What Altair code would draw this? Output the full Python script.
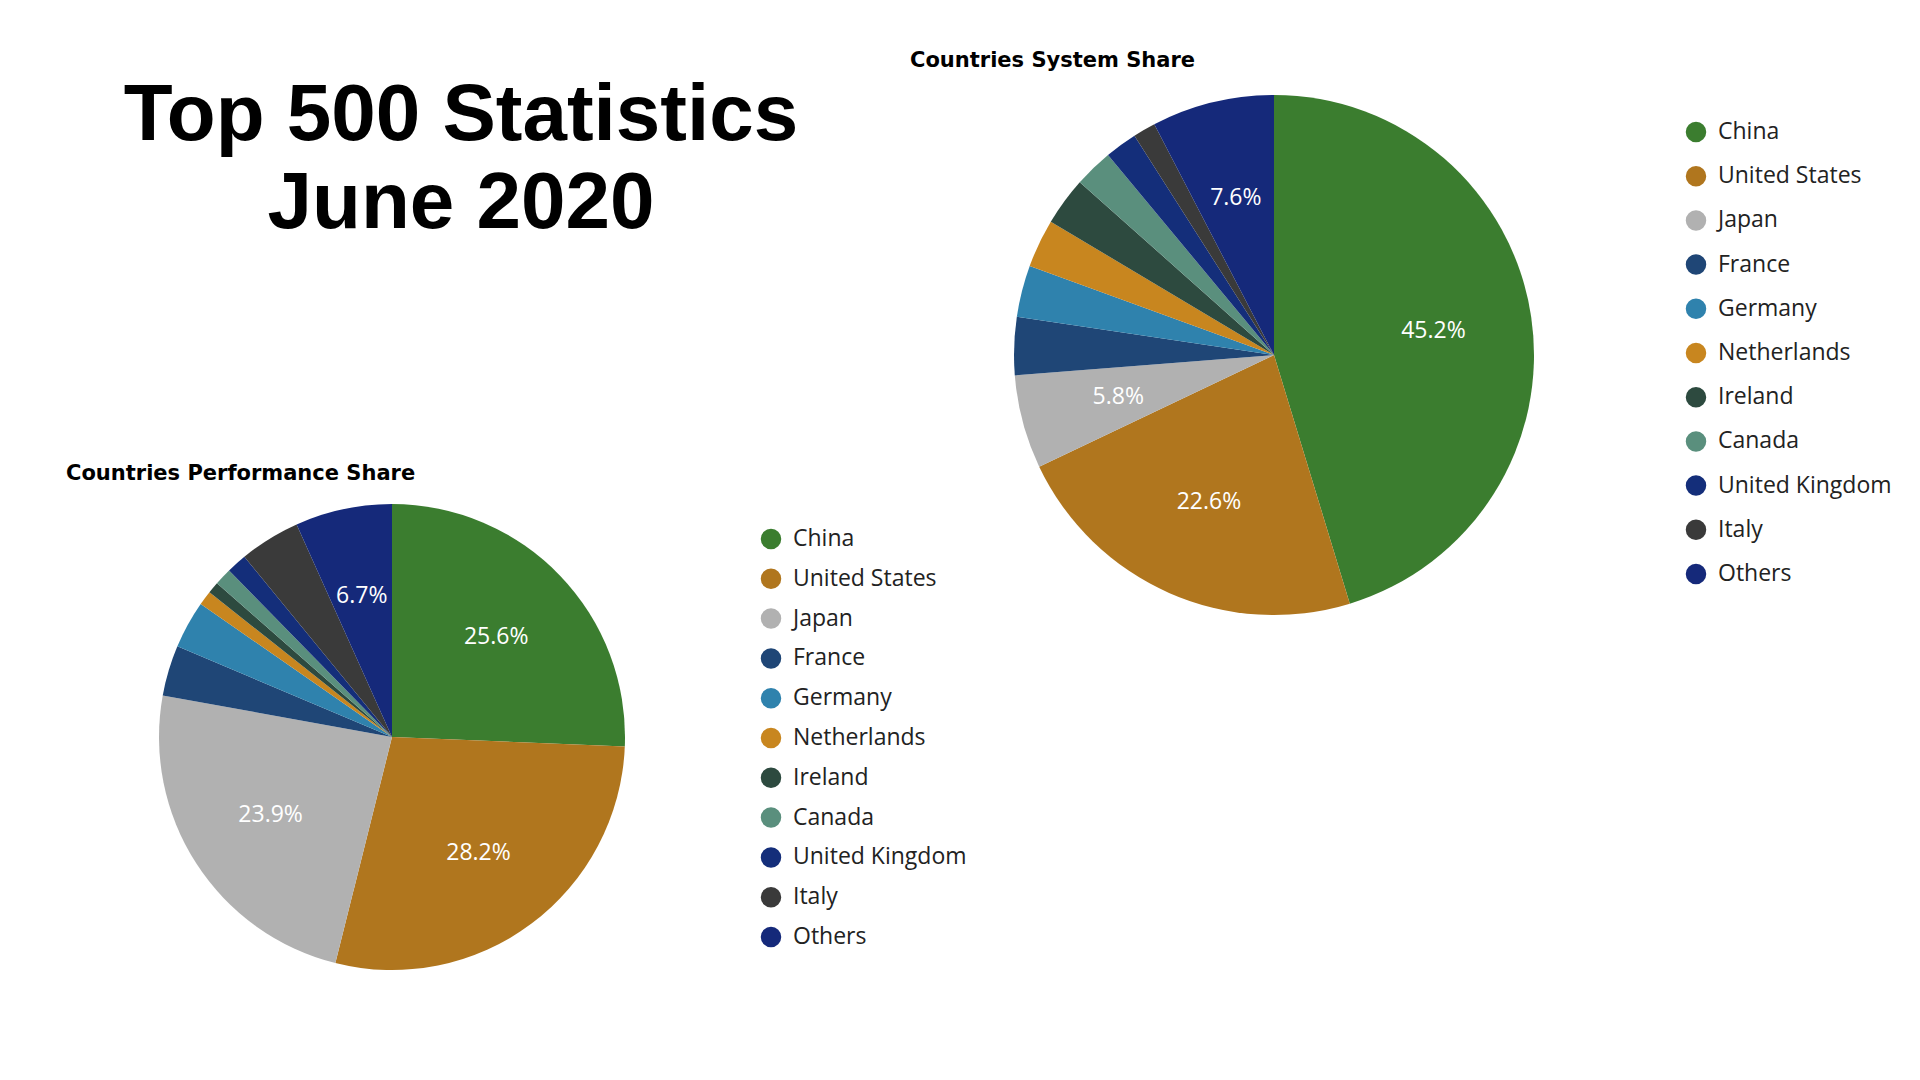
import altair as alt
import pandas as pd

countries = ["China", "United States", "Japan", "France", "Germany", "Netherlands",
             "Ireland", "Canada", "United Kingdom", "Italy", "Others"]
colors = ["#3b7d2f", "#b0761e", "#b1b1b1", "#1f4676", "#2f82ad", "#c8861f",
          "#2d4a3f", "#5a8f7d", "#142e7a", "#3a3a3a", "#15297a"]
perf_share = [25.6, 28.2, 23.9, 3.5, 3.3, 1.0, 0.8, 1.2, 1.4, 4.2, 6.7]
system_share = [45.2, 22.6, 5.8, 3.6, 3.2, 3.0, 3.0, 2.4, 2.0, 1.4, 7.6]


def pie_df(values):
    return pd.DataFrame({
        "country": countries,
        "share": values,
        "order": range(len(countries)),
        "label": [f"{v:.1f}%" if v >= 5 else "" for v in values],
    })


perf_df = pie_df(perf_share)
sys_df = pie_df(system_share)
color = alt.Color("country:N", scale=alt.Scale(domain=countries, range=colors), legend=None)


def pie(df, cx, cy, r):
    base = alt.Chart(df).encode(
        theta=alt.Theta("share:Q", stack=True),
        order=alt.Order("order:Q"),
    )
    arcs = base.mark_arc(radius=r, stroke=None).encode(
        color=color, x=alt.value(cx), y=alt.value(cy))
    labels = base.mark_text(radius=r * 0.62, fontSize=23, color="white",
                            font="Open Sans").encode(
        text="label:N", x=alt.value(cx), y=alt.value(cy))
    return alt.layer(arcs, labels).resolve_scale(theta="independent")


def legend(x, y0, y1):
    df = pd.DataFrame({"country": countries})
    y = alt.Y("country:N", sort=countries, axis=None,
              scale=alt.Scale(range=[y0, y1], padding=0))
    dots = alt.Chart(df).mark_point(filled=True, size=420, opacity=1).encode(
        x=alt.value(x), y=y, color=color)
    txt = alt.Chart(df).mark_text(align="left", fontSize=23, font="Open Sans",
                                  color="#222").encode(
        x=alt.value(x + 22), y=y, text="country:N")
    return alt.layer(dots, txt)


def text(s, x, y, size, align="left", font="Liberation Sans"):
    return alt.Chart(pd.DataFrame({"t": [s]})).mark_text(
        align=align, baseline="middle", fontSize=size, fontWeight="bold",
        font=font, color="black").encode(x=alt.value(x), y=alt.value(y), text="t:N")


layers = [
    text("Top 500 Statistics", 453, 108, 80, "center"),
    text("June 2020", 453, 196, 80, "center"),
    text("Countries Performance Share", 58, 466, 21, font="DejaVu Sans"),
    text("Countries System Share", 902, 53, 21, font="DejaVu Sans"),
    pie(perf_df, 384, 729, 233),
    pie(sys_df, 1266, 347, 260),
]
chart = alt.layer(*layers).resolve_scale(theta="independent")
chart = alt.layer(chart, legend(763, 531, 929), legend(1688, 124, 566)).resolve_scale(
    y="independent", theta="independent"
).properties(width=1900, height=1060, padding=0).configure_view(stroke=None)

chart.save("out.html", embed_options={"renderer": "svg", "actions": False})
